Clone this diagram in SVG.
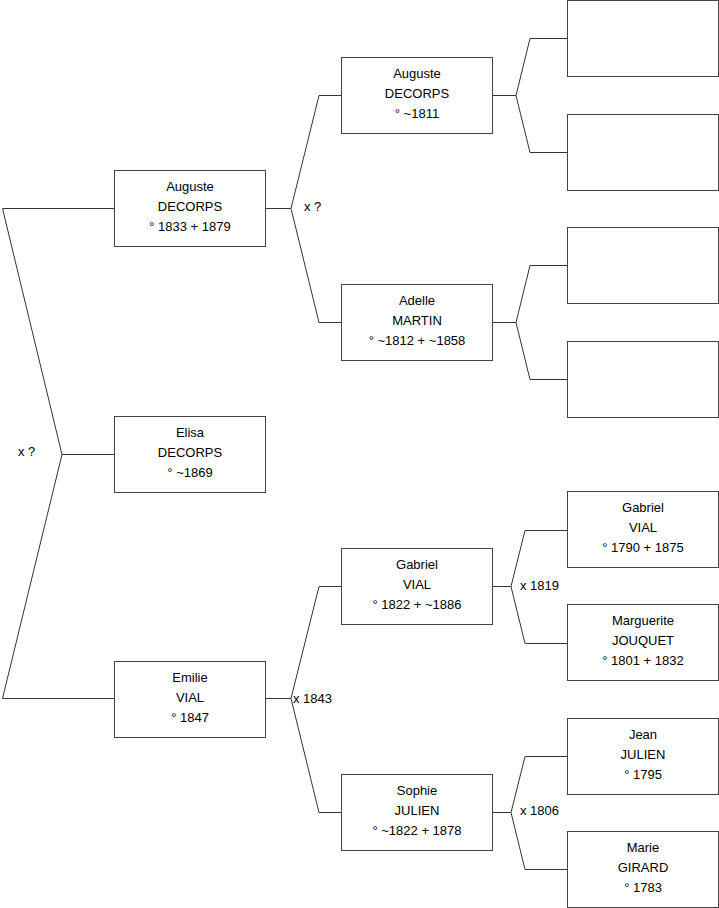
<svg xmlns="http://www.w3.org/2000/svg" width="719" height="908" viewBox="0 0 719 908">
<style>
.box{fill:#fff;stroke:#444;stroke-width:1}
.ln{fill:none;stroke:#333;stroke-width:1}
text{font-family:"Liberation Sans",Arial,sans-serif;font-size:13px;fill:#000}
.c{text-anchor:middle}
</style>
<rect width="719" height="908" fill="#fff"/>
<g id="connectors">
<path class="ln" d="M114 208.5H2.5L62 454.5L2.5 698.5H114M62 454.5H114"/>
<path class="ln" d="M265.5 208.5H291L319 95.5H341M291 208.5L319 322.5H341"/>
<path class="ln" d="M265.5 698.5H291L319 586.5H341M291 698.5L319 812.5H341"/>
<path class="ln" d="M492.5 95.5H516L530 38.5H567M516 95.5L530 152.5H567"/>
<path class="ln" d="M492.5 322.5H516L530 265.5H567M516 322.5L530 379.5H567"/>
<path class="ln" d="M492.5 586.5H511L525 530.5H567M511 586.5L525 643.5H567"/>
<path class="ln" d="M492.5 812.5H511L525 756.5H567M511 812.5L525 869.5H567"/>
<text x="18" y="456">x ?</text>
<text x="304" y="211">x ?</text>
<text x="293" y="703">x 1843</text>
<text x="520" y="590">x 1819</text>
<text x="520" y="815">x 1806</text>
</g>
<g id="n-auguste-1833">
<rect class="box" x="114.5" y="170.5" width="151" height="76"/>
<text class="c" x="190" y="191">Auguste</text><text class="c" x="190" y="211">DECORPS</text><text class="c" x="190" y="231">° 1833 + 1879</text>
</g>
<g id="n-elisa">
<rect class="box" x="114.5" y="416.5" width="151" height="76"/>
<text class="c" x="190" y="437">Elisa</text><text class="c" x="190" y="457">DECORPS</text><text class="c" x="190" y="477">° ~1869</text>
</g>
<g id="n-emilie">
<rect class="box" x="114.5" y="661.5" width="151" height="76"/>
<text class="c" x="190" y="682">Emilie</text><text class="c" x="190" y="702">VIAL</text><text class="c" x="190" y="722">° 1847</text>
</g>
<g id="n-auguste-1811">
<rect class="box" x="341.5" y="57.5" width="151" height="76"/>
<text class="c" x="417" y="78">Auguste</text><text class="c" x="417" y="98">DECORPS</text><text class="c" x="417" y="118">° ~1811</text>
</g>
<g id="n-adelle">
<rect class="box" x="341.5" y="284.5" width="151" height="76"/>
<text class="c" x="417" y="305">Adelle</text><text class="c" x="417" y="325">MARTIN</text><text class="c" x="417" y="345">° ~1812 + ~1858</text>
</g>
<g id="n-gabriel-1822">
<rect class="box" x="341.5" y="548.5" width="151" height="76"/>
<text class="c" x="417" y="569">Gabriel</text><text class="c" x="417" y="589">VIAL</text><text class="c" x="417" y="609">° 1822 + ~1886</text>
</g>
<g id="n-sophie">
<rect class="box" x="341.5" y="774.5" width="151" height="76"/>
<text class="c" x="417" y="795">Sophie</text><text class="c" x="417" y="815">JULIEN</text><text class="c" x="417" y="835">° ~1822 + 1878</text>
</g>
<g id="n-empty-1"><rect class="box" x="567.5" y="0.5" width="151" height="76"/></g>
<g id="n-empty-2"><rect class="box" x="567.5" y="114.5" width="151" height="76"/></g>
<g id="n-empty-3"><rect class="box" x="567.5" y="227.5" width="151" height="76"/></g>
<g id="n-empty-4"><rect class="box" x="567.5" y="341.5" width="151" height="76"/></g>
<g id="n-gabriel-1790">
<rect class="box" x="567.5" y="491.5" width="151" height="76"/>
<text class="c" x="643" y="512">Gabriel</text><text class="c" x="643" y="532">VIAL</text><text class="c" x="643" y="552">° 1790 + 1875</text>
</g>
<g id="n-marguerite">
<rect class="box" x="567.5" y="604.5" width="151" height="76"/>
<text class="c" x="643" y="625">Marguerite</text><text class="c" x="643" y="645">JOUQUET</text><text class="c" x="643" y="665">° 1801 + 1832</text>
</g>
<g id="n-jean">
<rect class="box" x="567.5" y="718.5" width="151" height="76"/>
<text class="c" x="643" y="739">Jean</text><text class="c" x="643" y="759">JULIEN</text><text class="c" x="643" y="779">° 1795</text>
</g>
<g id="n-marie">
<rect class="box" x="567.5" y="831.5" width="151" height="76"/>
<text class="c" x="643" y="852">Marie</text><text class="c" x="643" y="872">GIRARD</text><text class="c" x="643" y="892">° 1783</text>
</g>
</svg>
